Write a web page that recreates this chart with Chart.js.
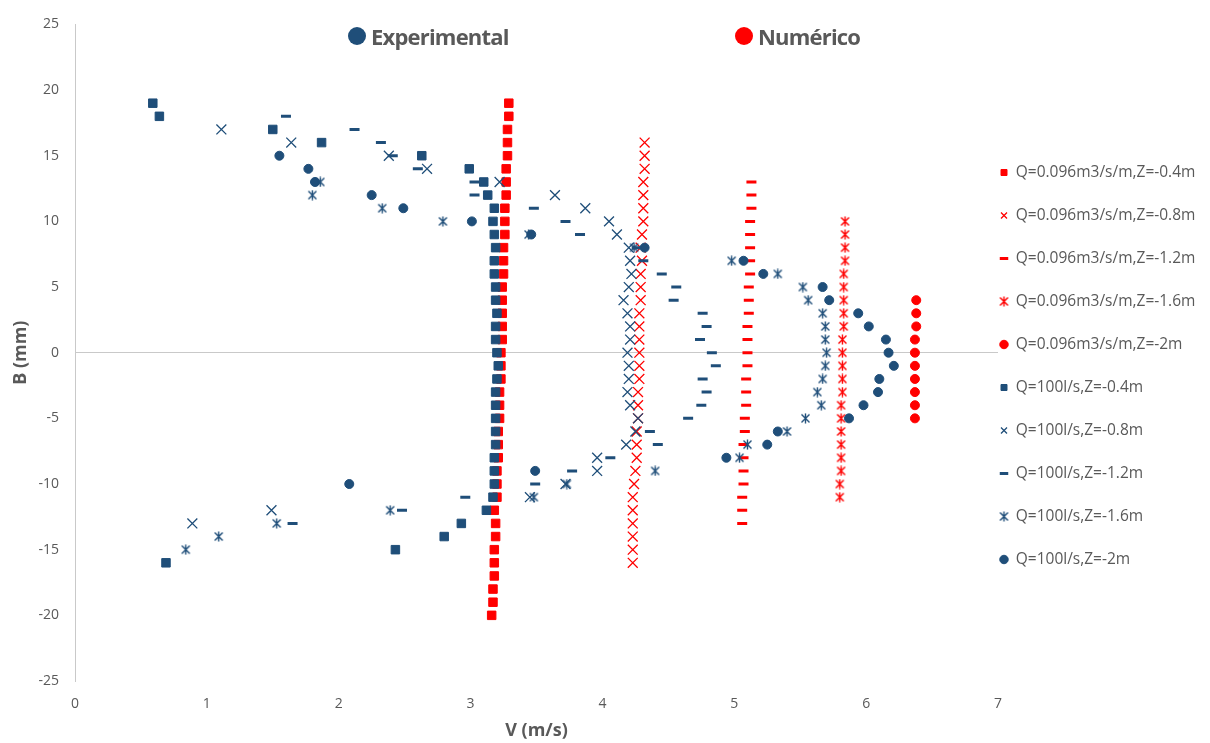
<!DOCTYPE html>
<html>
<head>
<meta charset="utf-8">
<script src="https://cdn.jsdelivr.net/npm/chart.js@4"></script>
<style>
  html, body { margin: 0; padding: 0; background: #fff; }
  #wrap { position: relative; width: 1210px; height: 743px; }
  .tag { position: absolute; top: 21px; height: 30px; display: flex; align-items: center;
         font: bold 22px 'Open Sans', sans-serif; color: #595959; letter-spacing: -0.8px; }
  .tag i { display: inline-block; width: 18px; height: 18px; border-radius: 50%; margin-right: 5px; }
</style>
</head>
<body>
<div id="wrap">
  <canvas id="chart"></canvas>
  <div class="tag" style="left:348px"><i style="background:#1F4E79"></i>Experimental</div>
  <div class="tag" style="left:735px"><i style="background:#FF0000"></i>Numérico</div>
</div>
<script>
// Numérico, Q=0.096m3/s/m
const numZ04_B = [19,18,17,16,15,14,13,12,11,10,9,8,7,6,5,4,3,2,1,0,-1,-2,-3,-4,-5,-6,-7,-8,-9,-10,-11,-12,-13,-14,-15,-16,-17,-18,-19,-20];
const numZ04_V = [3.29,3.29,3.28,3.28,3.28,3.27,3.27,3.27,3.26,3.26,3.26,3.25,3.25,3.25,3.24,3.24,3.24,3.24,3.24,3.23,3.23,3.23,3.22,3.22,3.22,3.21,3.21,3.21,3.20,3.20,3.20,3.18,3.19,3.19,3.18,3.18,3.18,3.17,3.17,3.16];
const numZ08_B = [16,15,14,13,12,11,10,9,8,7,6,5,4,3,2,1,0,-1,-2,-3,-4,-5,-6,-7,-8,-9,-10,-11,-12,-13,-14,-15,-16];
const numZ08_V = [4.32,4.32,4.32,4.31,4.31,4.31,4.31,4.30,4.29,4.30,4.29,4.29,4.29,4.28,4.28,4.28,4.28,4.28,4.28,4.27,4.27,4.27,4.26,4.26,4.26,4.25,4.24,4.23,4.23,4.23,4.23,4.23,4.23];
const numZ12_B = [13,12,11,10,9,8,7,6,5,4,3,2,1,0,-1,-2,-3,-4,-5,-6,-7,-8,-9,-10,-11,-12,-13];
const numZ12_V = [5.13,5.13,5.13,5.12,5.12,5.12,5.12,5.12,5.11,5.11,5.11,5.10,5.10,5.10,5.10,5.09,5.09,5.09,5.08,5.08,5.07,5.07,5.07,5.07,5.06,5.06,5.06];
const numZ16_B = [10,9,8,7,6,5,4,3,2,1,0,-1,-2,-3,-4,-5,-6,-7,-8,-9,-10,-11];
const numZ16_V = [5.84,5.84,5.84,5.84,5.83,5.83,5.83,5.83,5.83,5.82,5.82,5.82,5.82,5.82,5.81,5.81,5.81,5.81,5.81,5.81,5.80,5.80];
const numZ20_B = [4,3,2,1,0,-1,-2,-3,-4,-5];
const numZ20_V = [6.38,6.38,6.38,6.37,6.37,6.37,6.37,6.37,6.37,6.37];

// Experimental, Q=100l/s
const expZ04_B = [19,18,17,16,15,14,13,12,11,10,9,8,7,6,5,4,3,2,1,0,-1,-2,-3,-4,-5,-6,-7,-8,-9,-10,-11,-12,-13,-14,-15,-16];
const expZ04_V = [0.59,0.64,1.50,1.87,2.63,2.99,3.10,3.13,3.18,3.17,3.18,3.19,3.18,3.18,3.19,3.19,3.20,3.19,3.19,3.20,3.21,3.20,3.19,3.19,3.19,3.19,3.19,3.18,3.18,3.18,3.17,3.12,2.93,2.80,2.43,0.69];
const expZ08_B = [17,16,15,14,13,12,11,10,9,8,7,6,5,4,3,2,1,0,-1,-2,-3,-4,-5,-6,-7,-8,-9,-10,-11,-12,-13];
const expZ08_V = [1.11,1.64,2.38,2.67,3.22,3.64,3.87,4.05,4.11,4.20,4.21,4.22,4.20,4.16,4.19,4.21,4.21,4.19,4.20,4.20,4.19,4.21,4.27,4.25,4.18,3.96,3.96,3.72,3.45,1.49,0.89];
const expZ12_B = [18,17,16,15,14,13,12,11,10,9,8,7,6,5,4,3,2,1,0,-1,-2,-3,-4,-5,-6,-7,-8,-9,-10,-11,-12,-13];
const expZ12_V = [1.60,2.12,2.32,2.41,2.60,3.03,3.03,3.48,3.72,3.83,4.26,4.31,4.45,4.56,4.54,4.76,4.79,4.74,4.83,4.86,4.76,4.79,4.75,4.65,4.36,4.42,4.06,3.77,3.49,2.96,2.48,1.65];
const expZ16_B = [13,12,11,10,9,8,7,6,5,4,3,2,1,0,-1,-2,-3,-4,-5,-6,-7,-8,-9,-10,-11,-12,-13,-14,-15];
const expZ16_V = [1.86,1.80,2.33,2.79,3.44,4.24,4.98,5.33,5.52,5.56,5.67,5.69,5.69,5.70,5.69,5.67,5.63,5.66,5.54,5.40,5.10,5.04,4.40,3.73,3.48,2.39,1.53,1.09,0.84];
const expZ20_B = [15,14,13,12,11,10,9,8,7,6,5,4,3,2,1,0,-1,-2,-3,-4,-5,-6,-7,-8,-9,-10];
const expZ20_V = [1.55,1.77,1.82,2.25,2.49,3.01,3.46,4.32,5.07,5.22,5.67,5.72,5.94,6.02,6.15,6.17,6.21,6.10,6.09,5.98,5.87,5.33,5.25,4.94,3.49,2.08];

const seriesLabels = [
  'Q=0.096m3/s/m,Z=-0.4m', 'Q=0.096m3/s/m,Z=-0.8m', 'Q=0.096m3/s/m,Z=-1.2m',
  'Q=0.096m3/s/m,Z=-1.6m', 'Q=0.096m3/s/m,Z=-2m',
  'Q=100l/s,Z=-0.4m', 'Q=100l/s,Z=-0.8m', 'Q=100l/s,Z=-1.2m', 'Q=100l/s,Z=-1.6m', 'Q=100l/s,Z=-2m'
];
const xTicks = [0, 1, 2, 3, 4, 5, 6, 7];
const yTicks = [-25, -20, -15, -10, -5, 0, 5, 10, 15, 20, 25];

const RED = '#FF0000';
const BLUE = '#1F4E79';
const GRAY = '#595959';

// excel-like asterisk marker (x with a vertical bar)
function asterisk(color) {
  const c = document.createElement('canvas');
  c.width = 11; c.height = 11;
  const g = c.getContext('2d');
  g.strokeStyle = color;
  g.lineWidth = 1.4;
  g.beginPath();
  g.moveTo(5.5, 0.5); g.lineTo(5.5, 10.5);
  g.moveTo(1.5, 1.5); g.lineTo(9.5, 9.5);
  g.moveTo(9.5, 1.5); g.lineTo(1.5, 9.5);
  g.stroke();
  return c;
}

function pts(vs, bs) {
  return vs.map((v, i) => ({ x: v, y: bs[i] }));
}

function marker(kind, color) {
  switch (kind) {
    case 'square': return { pointStyle: 'rect', pointRadius: 6, borderWidth: 1, backgroundColor: color, borderColor: color };
    case 'x': return { pointStyle: 'crossRot', pointRadius: 7, borderWidth: 1.3, backgroundColor: color, borderColor: color };
    case 'dash': return { pointStyle: 'line', pointRadius: 5, borderWidth: 3, backgroundColor: color, borderColor: color };
    case 'star': return { pointStyle: asterisk(color), pointRadius: 6, borderWidth: 1, backgroundColor: color, borderColor: color };
    default: return { pointStyle: 'circle', pointRadius: 4.5, borderWidth: 1, backgroundColor: color, borderColor: color };
  }
}

const series = [
  [numZ04_V, numZ04_B, 'square', RED], [numZ08_V, numZ08_B, 'x', RED], [numZ12_V, numZ12_B, 'dash', RED],
  [numZ16_V, numZ16_B, 'star', RED], [numZ20_V, numZ20_B, 'circle', RED],
  [expZ04_V, expZ04_B, 'square', BLUE], [expZ08_V, expZ08_B, 'x', BLUE], [expZ12_V, expZ12_B, 'dash', BLUE],
  [expZ16_V, expZ16_B, 'star', BLUE], [expZ20_V, expZ20_B, 'circle', BLUE]
];

const datasets = series.map(([vs, bs, kind, color], i) => Object.assign({
  label: seriesLabels[i],
  data: pts(vs, bs),
  order: color === BLUE ? 0 : 1,
  pointHoverRadius: 6
}, marker(kind, color)));

const LEGEND_PAD = 27.5;

// legend overlaps the right of the plot as in the original
const legendShift = {
  id: 'legendShift',
  afterLayout(chart) {
    const lg = chart.legend;
    lg.left = 1000 - LEGEND_PAD;
    lg.top -= 14.5;
    lg.bottom -= 14.5;
  }
};

Chart.defaults.font.family = "'Open Sans', sans-serif";
Chart.defaults.color = GRAY;

new Chart(document.getElementById('chart'), {
  type: 'scatter',
  data: { datasets },
  plugins: [legendShift],
  options: {
    responsive: true,
    maintainAspectRatio: false,
    animation: false,
    events: [],
    layout: { padding: { top: 18, right: 0, bottom: 0, left: 0 } },
    plugins: {
      tooltip: { enabled: false },
      legend: {
        position: 'right',
        maxWidth: 212,
        labels: {
          usePointStyle: true,
          boxHeight: 6,
          boxWidth: 8,
          padding: LEGEND_PAD,
          color: GRAY,
          font: { size: 15.5 },
          sort: (a, b) => a.datasetIndex - b.datasetIndex
        }
      }
    },
    scales: {
      x: {
        type: 'linear',
        min: 0, max: 7,
        afterFit: s => { s.height = 62; },
        afterBuildTicks: s => { s.ticks = xTicks.map(v => ({ value: v })); },
        grid: { display: false, drawTicks: false },
        border: { display: false },
        ticks: { padding: 15, font: { size: 14 }, color: GRAY },
        title: { display: true, text: 'V (m/s)', color: GRAY, font: { size: 18, weight: 'bold' }, padding: { top: 0, bottom: 1 } }
      },
      y: {
        type: 'linear',
        min: -25, max: 25,
        afterFit: s => { s.width = 75; },
        afterBuildTicks: s => { s.ticks = yTicks.map(v => ({ value: v })); },
        grid: {
          drawTicks: false,
          color: ctx => (ctx.tick && ctx.tick.value === 0) ? '#c9c9c9' : 'rgba(0,0,0,0)'
        },
        border: { display: true, color: '#c9c9c9' },
        ticks: { padding: 16, font: { size: 14 }, color: GRAY },
        title: { display: true, text: 'B (mm)', color: GRAY, font: { size: 18, weight: 'bold' }, padding: { top: 10, bottom: 4 } }
      }
    }
  }
});
</script>
</body>
</html>
